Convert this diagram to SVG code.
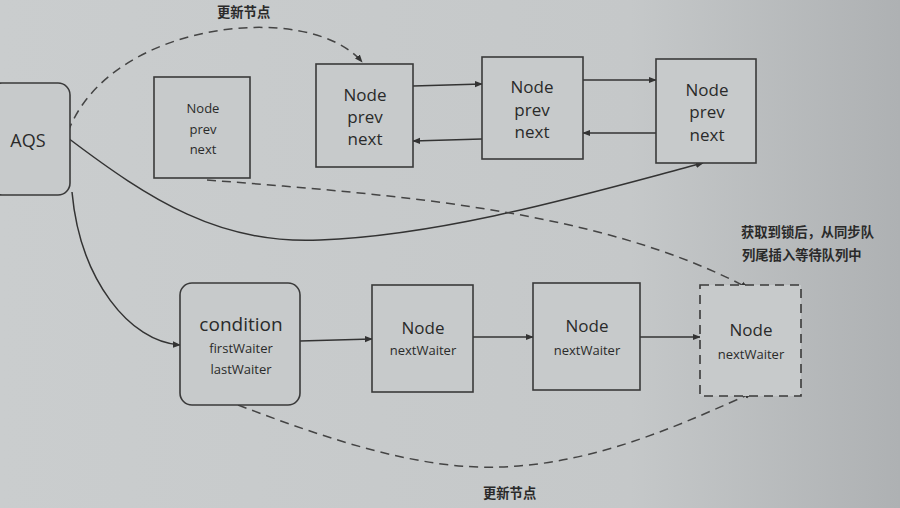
<svg xmlns="http://www.w3.org/2000/svg" width="900" height="508" viewBox="0 0 900 508">
  <defs>
    <linearGradient id="bg" x1="0" y1="0" x2="1" y2="0">
      <stop offset="0" stop-color="#cacdce"/>
      <stop offset="0.7" stop-color="#c5c8c9"/>
      <stop offset="1" stop-color="#aeb1b3"/>
    </linearGradient>
    <marker id="arr" viewBox="0 0 10 10" refX="9" refY="5" markerWidth="8" markerHeight="8" orient="auto" markerUnits="userSpaceOnUse">
      <path d="M0,1 L10,5 L0,9 z" fill="#333"/>
    </marker>
  </defs>
  <style>
    .box { fill: #c7cacb; stroke: #3a3a3a; stroke-width: 1.6; }
    .dbox { fill: #c7cacb; stroke: #3a3a3a; stroke-width: 1.6; stroke-dasharray: 9 6; }
    .t { font-family: "Open Sans", "Noto Sans", sans-serif; fill: #2a2a2a; text-anchor: middle; }
    .big { font-size: 17px; }
    .sm { font-size: 13px; }
    .cn { font-family: "Noto Sans CJK SC", sans-serif; font-size: 13.3px; font-weight: bold; fill: #2a2a2a; }
    .ln { fill: none; stroke: #333; stroke-width: 1.5; }
    .dl { fill: none; stroke: #444; stroke-width: 1.5; stroke-dasharray: 9 6; }
  </style>
  <rect x="0" y="0" width="900" height="508" fill="url(#bg)"/>

  <g id="connectors">
    <path class="dl" d="M68,132 C110,20 310,0 362,62" marker-end="url(#arr)"/>
    <path class="ln" d="M68,138 C150,200 220,245 320,240 C450,235 600,190 703,163" marker-end="url(#arr)"/>
    <path class="dl" d="M207,180 C400,195 600,210 748,288" marker-end="url(#arr)"/>
    <path class="ln" d="M72,192 C80,280 130,342 180,345" marker-end="url(#arr)"/>
    <path class="dl" d="M238,405 C330,440 420,470 500,467 C600,464 690,420 752,393" marker-end="url(#arr)"/>
    <line class="ln" x1="413" y1="86" x2="482" y2="84" marker-end="url(#arr)"/>
    <line class="ln" x1="482" y1="139" x2="413" y2="141" marker-end="url(#arr)"/>
    <line class="ln" x1="583" y1="80" x2="656" y2="80" marker-end="url(#arr)"/>
    <line class="ln" x1="656" y1="133" x2="583" y2="133" marker-end="url(#arr)"/>
    <line class="ln" x1="300" y1="341" x2="372" y2="339" marker-end="url(#arr)"/>
    <line class="ln" x1="473" y1="337" x2="533" y2="337" marker-end="url(#arr)"/>
    <line class="ln" x1="640" y1="337" x2="700" y2="337" marker-end="url(#arr)"/>
  </g>

  <g id="aqs">
    <rect class="box" x="-10" y="83" width="80" height="112" rx="12"/>
    <text class="t" x="28" y="147" font-size="18">AQS</text>
  </g>
  <g id="node0">
    <rect class="box" x="154" y="77" width="96" height="101"/>
    <text class="t sm" x="203" y="113">Node</text>
    <text class="t sm" x="203" y="134">prev</text>
    <text class="t sm" x="203" y="154">next</text>
  </g>
  <g id="node1">
    <rect class="box" x="316" y="64" width="97" height="103"/>
    <text class="t big" x="365" y="101">Node</text>
    <text class="t big" x="365" y="123">prev</text>
    <text class="t big" x="365" y="145">next</text>
  </g>
  <g id="node2">
    <rect class="box" x="482" y="57" width="101" height="102"/>
    <text class="t big" x="532" y="93">Node</text>
    <text class="t big" x="532" y="116">prev</text>
    <text class="t big" x="532" y="138">next</text>
  </g>
  <g id="node3">
    <rect class="box" x="656" y="59" width="100" height="104"/>
    <text class="t big" x="707" y="96">Node</text>
    <text class="t big" x="707" y="118">prev</text>
    <text class="t big" x="707" y="141">next</text>
  </g>
  <g id="condition">
    <rect class="box" x="180" y="283" width="120" height="122" rx="12"/>
    <text class="t" x="241" y="331" font-size="19">condition</text>
    <text class="t sm" x="241" y="353">firstWaiter</text>
    <text class="t sm" x="241" y="374">lastWaiter</text>
  </g>
  <g id="waiter1">
    <rect class="box" x="372" y="285" width="101" height="107"/>
    <text class="t big" x="423" y="334">Node</text>
    <text class="t sm" x="423" y="355">nextWaiter</text>
  </g>
  <g id="waiter2">
    <rect class="box" x="533" y="283" width="107" height="107"/>
    <text class="t big" x="587" y="332">Node</text>
    <text class="t sm" x="587" y="355">nextWaiter</text>
  </g>
  <g id="waiter3">
    <rect class="dbox" x="700" y="285" width="101" height="111"/>
    <text class="t big" x="751" y="336">Node</text>
    <text class="t sm" x="751" y="359">nextWaiter</text>
  </g>

  <g id="labels">
    <text class="cn" x="217" y="17">更新节点</text>
    <text class="cn" x="483" y="498">更新节点</text>
    <text class="cn" x="741" y="237">获取到锁后，从同步队</text>
    <text class="cn" x="742" y="260">列尾插入等待队列中</text>
  </g>
</svg>
